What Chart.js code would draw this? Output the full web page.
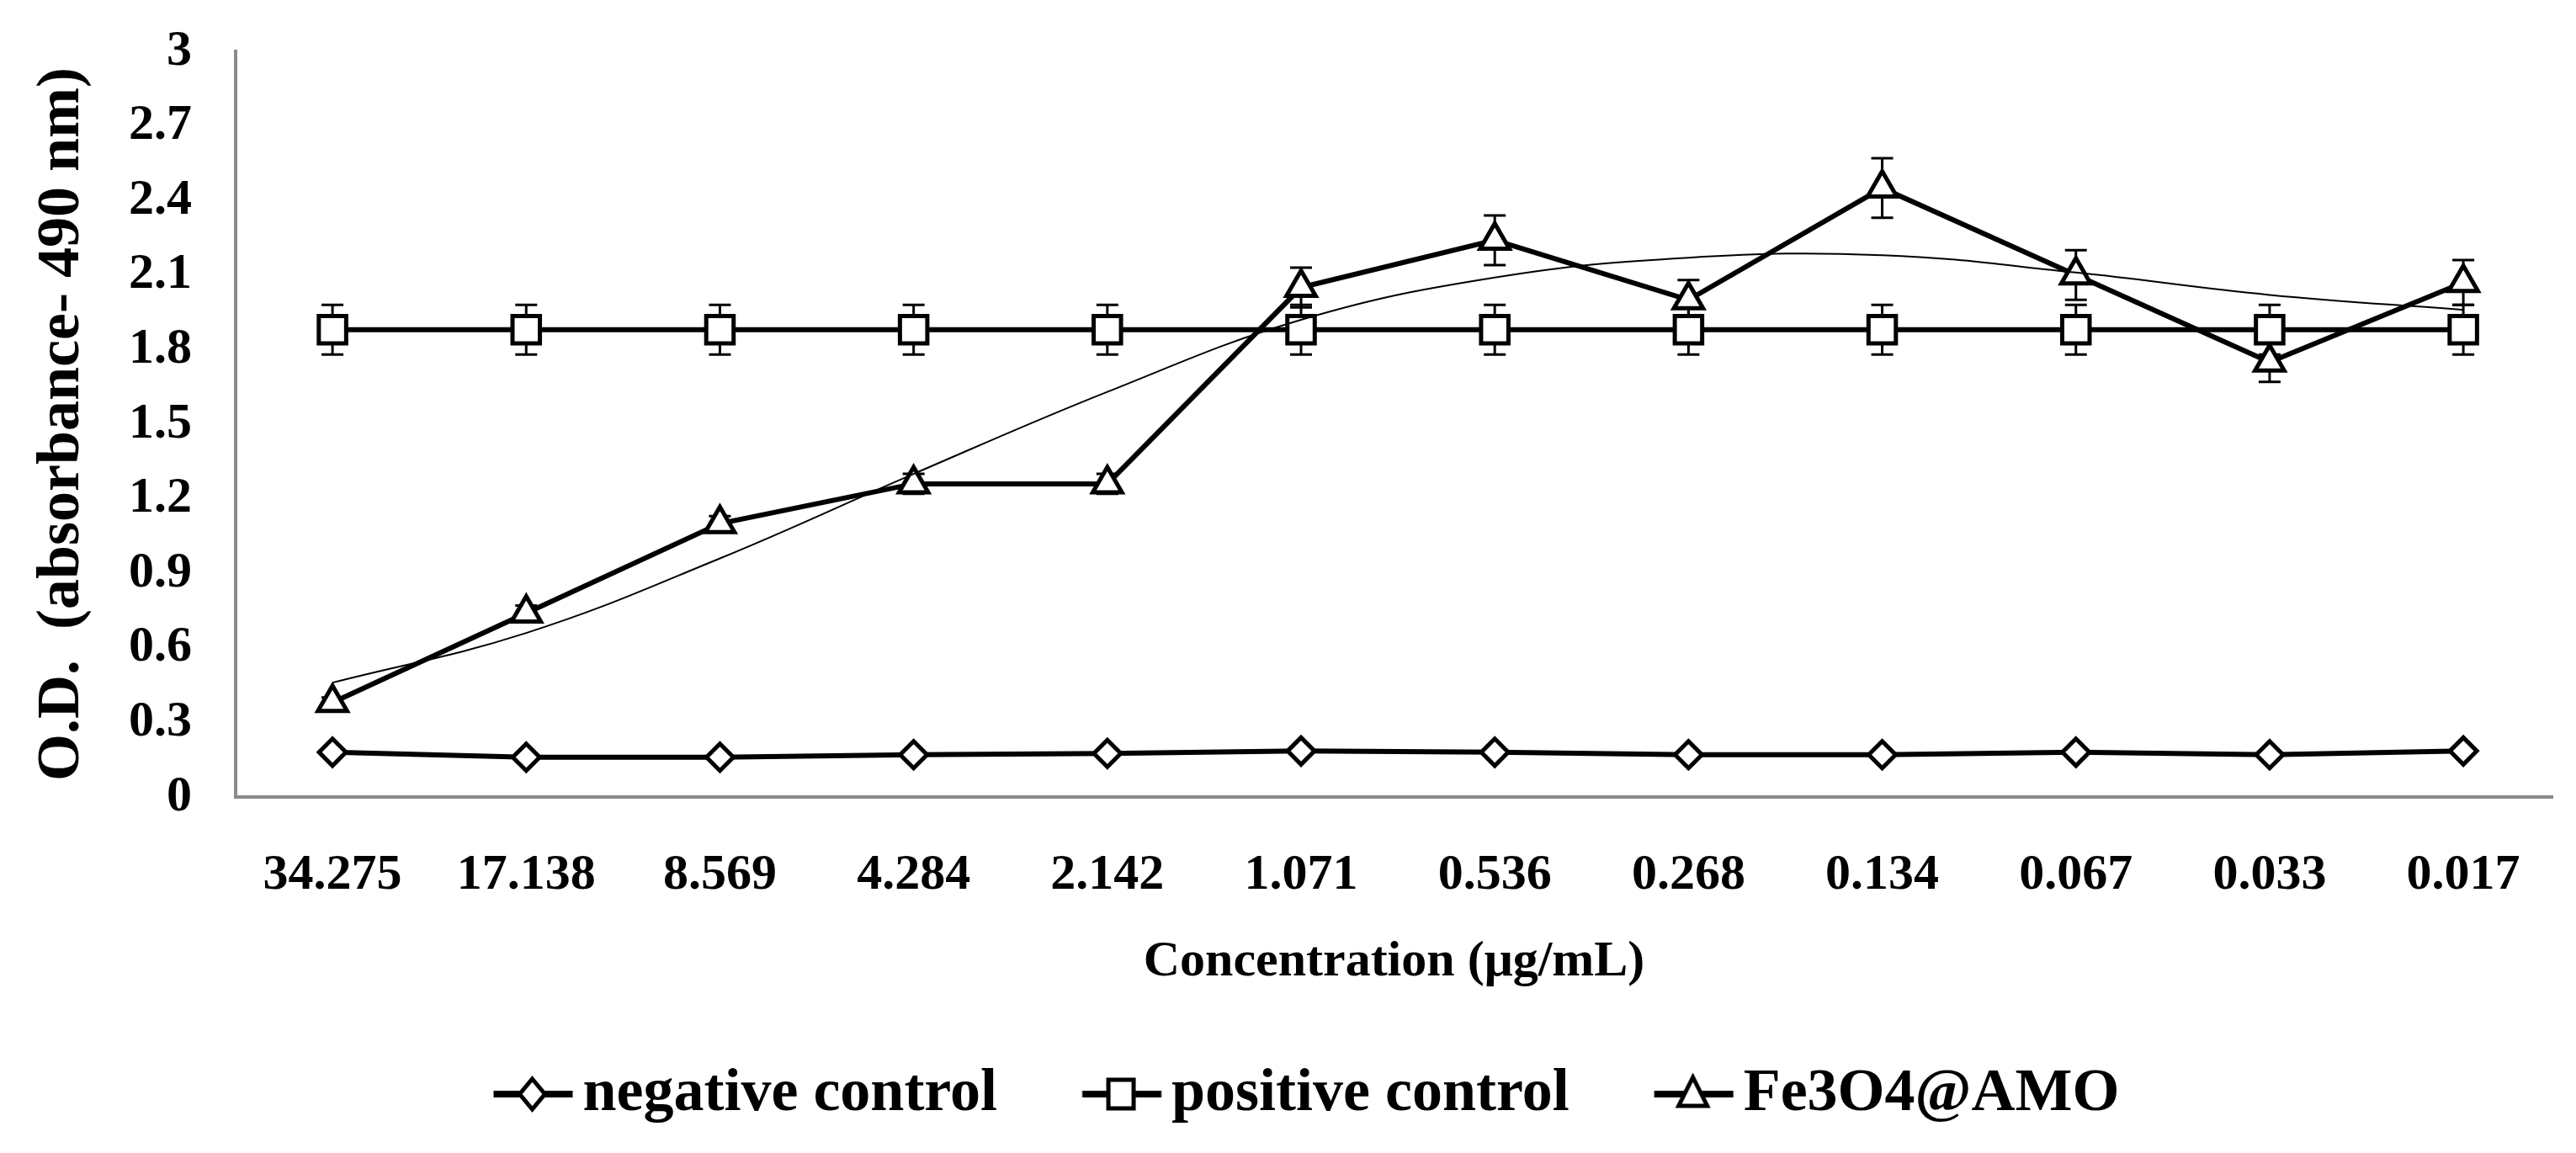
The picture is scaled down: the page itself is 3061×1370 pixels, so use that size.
<!DOCTYPE html>
<html><head><meta charset="utf-8">
<script src="https://cdn.jsdelivr.net/npm/chart.js@4.4.1/dist/chart.umd.min.js"></script>
<style>html,body{margin:0;padding:0;background:#fff;overflow:hidden}#wrap{width:3061px;height:1370px;position:relative}</style>
</head><body><div id="wrap"><canvas id="c"></canvas></div>
<script>
const categories = ['34.275','17.138','8.569','4.284','2.142','1.071','0.536','0.268','0.134','0.067','0.033','0.017'];
const seriesNames = ['negative control','positive control','Fe3O4@AMO'];
const negativeControl = [0.18,0.16,0.16,0.17,0.175,0.185,0.18,0.17,0.17,0.18,0.17,0.185];
const positiveControl = [1.88,1.88,1.88,1.88,1.88,1.88,1.88,1.88,1.88,1.88,1.88,1.88];
const positiveErr = [0.1,0.1,0.1,0.1,0.1,0.1,0.1,0.1,0.1,0.1,0.1,0.1];
const fe3o4 = [0.38,0.74,1.10,1.26,1.26,2.05,2.24,2.00,2.45,2.10,1.75,2.07];
const fe3o4Err = [0.02,0.03,0.03,0.04,0.04,0.08,0.1,0.08,0.12,0.1,0.08,0.09];
const fe3o4Trend = [0.46,0.66,0.96,1.30,1.63,1.92,2.09,2.17,2.18,2.11,2.02,1.96];
const yTicks = [0,0.3,0.6,0.9,1.2,1.5,1.8,2.1,2.4,2.7,3];

const FONT = "'Liberation Serif','Times New Roman',serif";
Chart.defaults.font.family = FONT;
Chart.defaults.font.weight = 'bold';
Chart.defaults.color = '#000';

const toXY = arr => arr.map((v, i) => ({x: i, y: v}));

// legend icons: line + marker
const LP = 84, LB = 87, LW = 190, LH = 60;
function legendIcon(type) {
  const c = document.createElement('canvas');
  c.width = LW; c.height = LH;
  const g = c.getContext('2d');
  const a = LB / 2 + LW / 2 - 70;
  const cy = LH / 2, cx = a + 46;
  g.strokeStyle = '#000'; g.lineWidth = 8;
  g.beginPath(); g.moveTo(a, cy); g.lineTo(a + 94, cy); g.stroke();
  g.fillStyle = '#fff'; g.lineWidth = 5;
  g.beginPath();
  if (type === 'diamond') {
    g.moveTo(cx, cy - 18); g.lineTo(cx + 15, cy); g.lineTo(cx, cy + 18); g.lineTo(cx - 15, cy); g.closePath();
  } else if (type === 'square') {
    g.rect(cx - 15, cy - 17, 30, 34);
  } else {
    g.moveTo(cx, cy - 20); g.lineTo(cx + 17, cy + 14); g.lineTo(cx - 17, cy + 14); g.closePath();
  }
  g.fill(); g.stroke();
  return c;
}
const legendIcons = [legendIcon('diamond'), legendIcon('square'), legendIcon('triangle')];

const errorBars = {
  id: 'errorBars',
  beforeDatasetsDraw(chart) {
    const {ctx, scales: {x, y}} = chart;
    ctx.save();
    ctx.strokeStyle = '#000'; ctx.lineWidth = 3;
    chart.data.datasets.forEach(ds => {
      if (!ds.errors) return;
      ds.data.forEach((p, i) => {
        const e = ds.errors[i];
        if (!e) return;
        const px = x.getPixelForValue(p.x);
        const t = y.getPixelForValue(p.y + e), b = y.getPixelForValue(p.y - e);
        ctx.beginPath();
        ctx.moveTo(px, t); ctx.lineTo(px, b);
        ctx.moveTo(px - 13, t); ctx.lineTo(px + 13, t);
        ctx.moveTo(px - 13, b); ctx.lineTo(px + 13, b);
        ctx.stroke();
      });
    });
    ctx.restore();
  }
};

new Chart(document.getElementById('c'), {
  type: 'line',
  data: {
    datasets: [
      {label: seriesNames[0], data: toXY(negativeControl), borderColor: '#000', borderWidth: 6,
       pointStyle: 'rectRot', pointRadius: 16, pointBorderWidth: 5, pointBackgroundColor: '#fff', pointBorderColor: '#000', order: 3},
      {label: seriesNames[1], data: toXY(positiveControl), errors: positiveErr, borderColor: '#000', borderWidth: 6,
       pointStyle: 'rect', pointRadius: 23, pointBorderWidth: 5, pointBackgroundColor: '#fff', pointBorderColor: '#000', order: 2},
      {label: seriesNames[2], data: toXY(fe3o4), errors: fe3o4Err, borderColor: '#000', borderWidth: 6,
       pointStyle: 'triangle', pointRadius: 20, pointBorderWidth: 5, pointBackgroundColor: '#fff', pointBorderColor: '#000', order: 1},
      {label: 'trend', data: toXY(fe3o4Trend), borderColor: '#000', borderWidth: 2, pointRadius: 0, tension: 0.4, order: 0}
    ]
  },
  options: {
    responsive: true, maintainAspectRatio: false, animation: false, devicePixelRatio: 1,
    events: [],
    layout: {padding: {top: 61, left: 27, right: 0, bottom: 24}},
    plugins: {
      tooltip: {enabled: false},
      legend: {
        position: 'bottom',
        labels: {
          usePointStyle: true, pointStyleWidth: LB, padding: LP,
          font: {size: 72, weight: 'bold', family: FONT}, color: '#000',
          generateLabels: chart => chart.data.datasets.slice(0, 3).map((ds, i) => ({
            text: ds.label, pointStyle: legendIcons[i], fillStyle: '#fff', strokeStyle: '#000',
            lineWidth: 0, hidden: false, datasetIndex: i, fontColor: '#000'
          }))
        }
      }
    },
    scales: {
      x: {
        type: 'linear', min: -0.5, max: 11.46,
        afterBuildTicks: s => { s.ticks = categories.map((_, i) => ({value: i})); },
        grid: {display: false, drawTicks: true, tickLength: 50},
        border: {display: true, color: '#8a8a8a', width: 4},
        ticks: {autoSkip: false, maxRotation: 0, padding: 7, font: {size: 60, weight: 'bold'}, color: '#000',
                callback: v => categories[v]},
        title: {display: true, text: 'Concentration (μg/mL)', font: {size: 60, weight: 'bold'}, color: '#000',
                padding: {top: 24, bottom: 1}}
      },
      y: {
        min: 0, max: 3,
        afterBuildTicks: s => { s.ticks = yTicks.map(v => ({value: v})); },
        afterFit: s => { s.width = 253; s.paddingTop = 36; s.paddingBottom = 36; },
        grid: {display: false, drawTicks: false},
        border: {display: true, color: '#8a8a8a', width: 4},
        ticks: {padding: 52, font: {size: 60, weight: 'bold'}, color: '#000',
                callback: v => String(+Number(v).toFixed(1))},
        title: {display: true, text: 'O.D.  (absorbance- 490 nm)', font: {size: 72, weight: 'bold'}, color: '#000',
                padding: {top: 4, bottom: 4}}
      }
    }
  },
  plugins: [errorBars]
});
</script>
</body></html>
